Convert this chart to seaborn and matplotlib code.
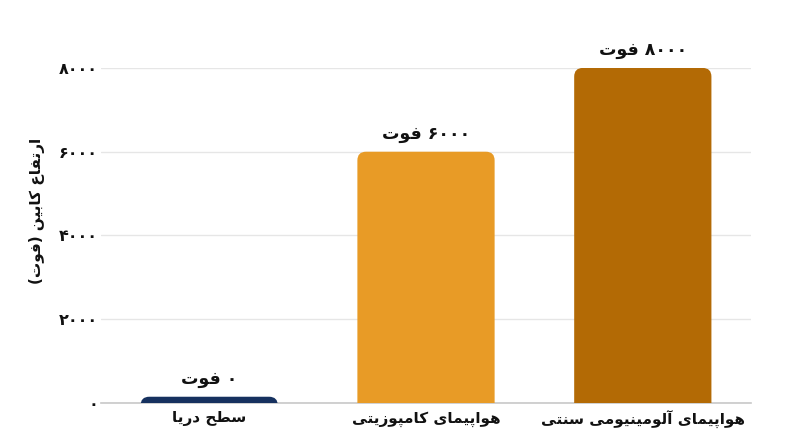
import re
import matplotlib
matplotlib.use("Agg")
import matplotlib.pyplot as plt
import seaborn as sns
import pandas as pd
from matplotlib.patches import FancyBboxPatch

# chart data
categories = ["سطح دریا", "هواپیمای کامپوزیتی", "هواپیمای آلومینیومی سنتی"]
cabin_altitude = [150, 6000, 8000]   # sea level is drawn as a thin sliver
value_labels = ["۰ فوت", "۶۰۰۰ فوت", "۸۰۰۰ فوت"]
y_ticks = [0, 2000, 4000, 6000, 8000]
y_tick_labels = ["۰", "۲۰۰۰", "۴۰۰۰", "۶۰۰۰", "۸۰۰۰"]
y_title = "ارتفاع کابین (فوت)"
colors = ["#16315f", "#e89b26", "#b36a05"]

# matplotlib has no arabic shaping, so pick presentation forms by hand
# (isolated, final[, initial, medial])
FORMS = {
    "ا": ("\uFE8D", "\uFE8E"),
    "آ": ("\uFE81", "\uFE82"),
    "د": ("\uFEA9", "\uFEAA"),
    "ر": ("\uFEAD", "\uFEAE"),
    "ز": ("\uFEAF", "\uFEB0"),
    "و": ("\uFEED", "\uFEEE"),
    "ب": ("\uFE8F", "\uFE90", "\uFE91", "\uFE92"),
    "پ": ("\uFB56", "\uFB57", "\uFB58", "\uFB59"),
    "ت": ("\uFE95", "\uFE96", "\uFE97", "\uFE98"),
    "ح": ("\uFEA1", "\uFEA2", "\uFEA3", "\uFEA4"),
    "س": ("\uFEB1", "\uFEB2", "\uFEB3", "\uFEB4"),
    "ط": ("\uFEC1", "\uFEC2", "\uFEC3", "\uFEC4"),
    "ع": ("\uFEC9", "\uFECA", "\uFECB", "\uFECC"),
    "ف": ("\uFED1", "\uFED2", "\uFED3", "\uFED4"),
    "ک": ("\uFB8E", "\uFB8F", "\uFB90", "\uFB91"),
    "ل": ("\uFEDD", "\uFEDE", "\uFEDF", "\uFEE0"),
    "م": ("\uFEE1", "\uFEE2", "\uFEE3", "\uFEE4"),
    "ن": ("\uFEE5", "\uFEE6", "\uFEE7", "\uFEE8"),
    "ه": ("\uFEE9", "\uFEEA", "\uFEEB", "\uFEEC"),
    "ی": ("\uFBFC", "\uFBFD", "\uFBFE", "\uFBFF"),
}


def shape(text):
    out = []
    for i, ch in enumerate(text):
        if ch not in FORMS:
            out.append(ch)
            continue
        prev = text[i - 1] if i > 0 else ""
        nxt = text[i + 1] if i + 1 < len(text) else ""
        f = FORMS[ch]
        join_prev = prev in FORMS and len(FORMS[prev]) == 4
        join_next = len(f) == 4 and nxt in FORMS
        if join_prev and join_next:
            out.append(f[3])
        elif join_prev:
            out.append(f[1])
        elif join_next:
            out.append(f[2])
        else:
            out.append(f[0])
    return "".join(out)


def rtl(text):
    s = shape(text)[::-1]
    s = s.translate(str.maketrans("()", ")("))
    # numbers still read left to right
    return re.sub(r"[۰-۹]+", lambda m: m.group(0)[::-1], s)


sns.set_style("white")
plt.rcParams["font.family"] = ["DejaVu Sans"]
plt.rcParams["font.weight"] = "bold"

df = pd.DataFrame({"cat": [rtl(c) for c in categories], "alt": cabin_altitude})

fig = plt.figure(figsize=(8, 4.47), dpi=100)
ax = fig.add_axes([0.126, 0.0984, 0.813, 0.7496])

sns.barplot(data=df, x="cat", y="alt", hue="cat", palette=colors,
            legend=False, width=0.633, saturation=1, ax=ax)

ax.set_xlim(-0.5, 2.5)
ax.set_ylim(0, 8000)

# swap the plain bars for ones with rounded tops
aspect = (8000 / 335) * 216.5
for bar, c in zip(list(ax.patches), colors):
    x, w, h = bar.get_x(), bar.get_width(), bar.get_height()
    bar.set_visible(False)
    ax.add_patch(FancyBboxPatch((x, -400), w, h + 400,
                                boxstyle="round,pad=0,rounding_size=0.04",
                                mutation_aspect=aspect, fc=c, ec="none",
                                zorder=3))

for i, (h, lab) in enumerate(zip(cabin_altitude, value_labels)):
    ax.annotate(rtl(lab), (i, h), xytext=(0, 13), textcoords="offset points",
                ha="center", va="center", fontsize=12.5, fontweight="bold",
                color="#111111", annotation_clip=False)

ax.set_yticks(y_ticks)
ax.set_yticklabels([rtl(t) for t in y_tick_labels])
ax.yaxis.grid(True, color="#e6e6e6", lw=1)
ax.set_axisbelow(True)
ax.tick_params(axis="y", length=0, pad=2, labelsize=11.5, colors="#111111")
ax.tick_params(axis="x", length=0, pad=6, labelsize=11, colors="#111111")
for t in ax.get_xticklabels() + ax.get_yticklabels():
    t.set_fontweight("bold")

ax.set_xlabel("")
ax.set_ylabel(rtl(y_title), fontsize=11, fontweight="bold", color="#111111")
ax.yaxis.set_label_coords(-0.086, 0.573)

for side in ["left", "right", "top"]:
    ax.spines[side].set_visible(False)
ax.spines["bottom"].set_color("#c8c8c8")
ax.spines["bottom"].set_linewidth(1.2)

fig.savefig("out.png", dpi=100)
